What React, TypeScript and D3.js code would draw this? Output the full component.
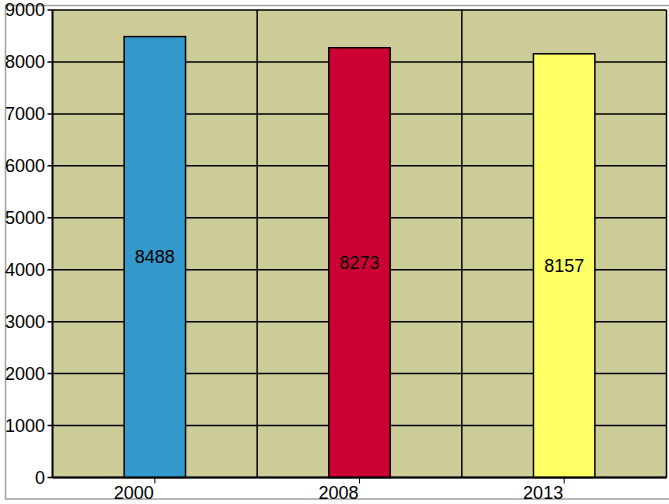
import React from "react";
import * as d3 from "d3";

const categories = ["2000", "2008", "2013"];
const values = [8488, 8273, 8157];
const colors = ["#3399CC", "#CC0033", "#FFFF66"];
const yTicks = [0, 1000, 2000, 3000, 4000, 5000, 6000, 7000, 8000, 9000];

export default function App() {
  const W = 669, H = 504;
  const left = 52.5, right = 666.5, top = 10, bottom = 477.5;
  const x = d3.scaleBand<string>().domain(categories).range([left, right]).paddingInner(0).paddingOuter(0);
  const y = d3.scaleLinear().domain([0, 9000]).range([bottom, top]);
  const bw = x.bandwidth() * 0.3;
  const font = "'Liberation Sans', Arial, sans-serif";
  return (
    <svg width={W} height={H} style={{ position: "absolute", left: 0, top: 0 }} fontFamily={font}>
      <rect x={0} y={0} width={W} height={H} fill="#fff" />
      <rect x={5.5} y={5.5} width={W} height={493.5} fill="none" stroke="#A0A0A0" strokeWidth={1.5} />
      <rect x={left} y={top} width={right - left} height={bottom - top} fill="#CCCC99" />
      {yTicks.map((t) => (
        <line key={"g" + t} x1={left - 5} x2={right} y1={y(t)} y2={y(t)} stroke="#000" strokeWidth={1.5} />
      ))}
      {categories.slice(1).map((c) => (
        <line key={"v" + c} x1={x(c)!} x2={x(c)!} y1={top} y2={bottom} stroke="#000" strokeWidth={1.5} />
      ))}
      <line x1={right} x2={right} y1={top} y2={bottom} stroke="#000" strokeWidth={1.5} />
      {categories.map((c, i) => {
        const cx = x(c)! + x.bandwidth() / 2;
        return (
          <g key={c}>
            <rect x={cx - bw / 2} y={y(values[i])} width={bw} height={bottom - y(values[i])} fill={colors[i]} stroke="#000" strokeWidth={1.5} />
            <text x={cx} y={(y(values[i]) + bottom) / 2} textAnchor="middle" dominantBaseline="central" fontSize={18} fill="#000">{values[i]}</text>
            <line x1={cx} x2={cx} y1={bottom} y2={bottom + 6} stroke="#000" strokeWidth={1} />
            <text x={cx - 1} y={499} textAnchor="end" fontSize={18} fill="#000">{c}</text>
          </g>
        );
      })}
      <line x1={left} x2={left} y1={top} y2={bottom} stroke="#000" strokeWidth={2} />
      <line x1={left} x2={right} y1={bottom} y2={bottom} stroke="#000" strokeWidth={2} />
      {yTicks.map((t) => (
        <text key={"l" + t} x={45} y={y(t)} textAnchor="end" dominantBaseline="central" fontSize={18} fill="#000">{t}</text>
      ))}
    </svg>
  );
}
